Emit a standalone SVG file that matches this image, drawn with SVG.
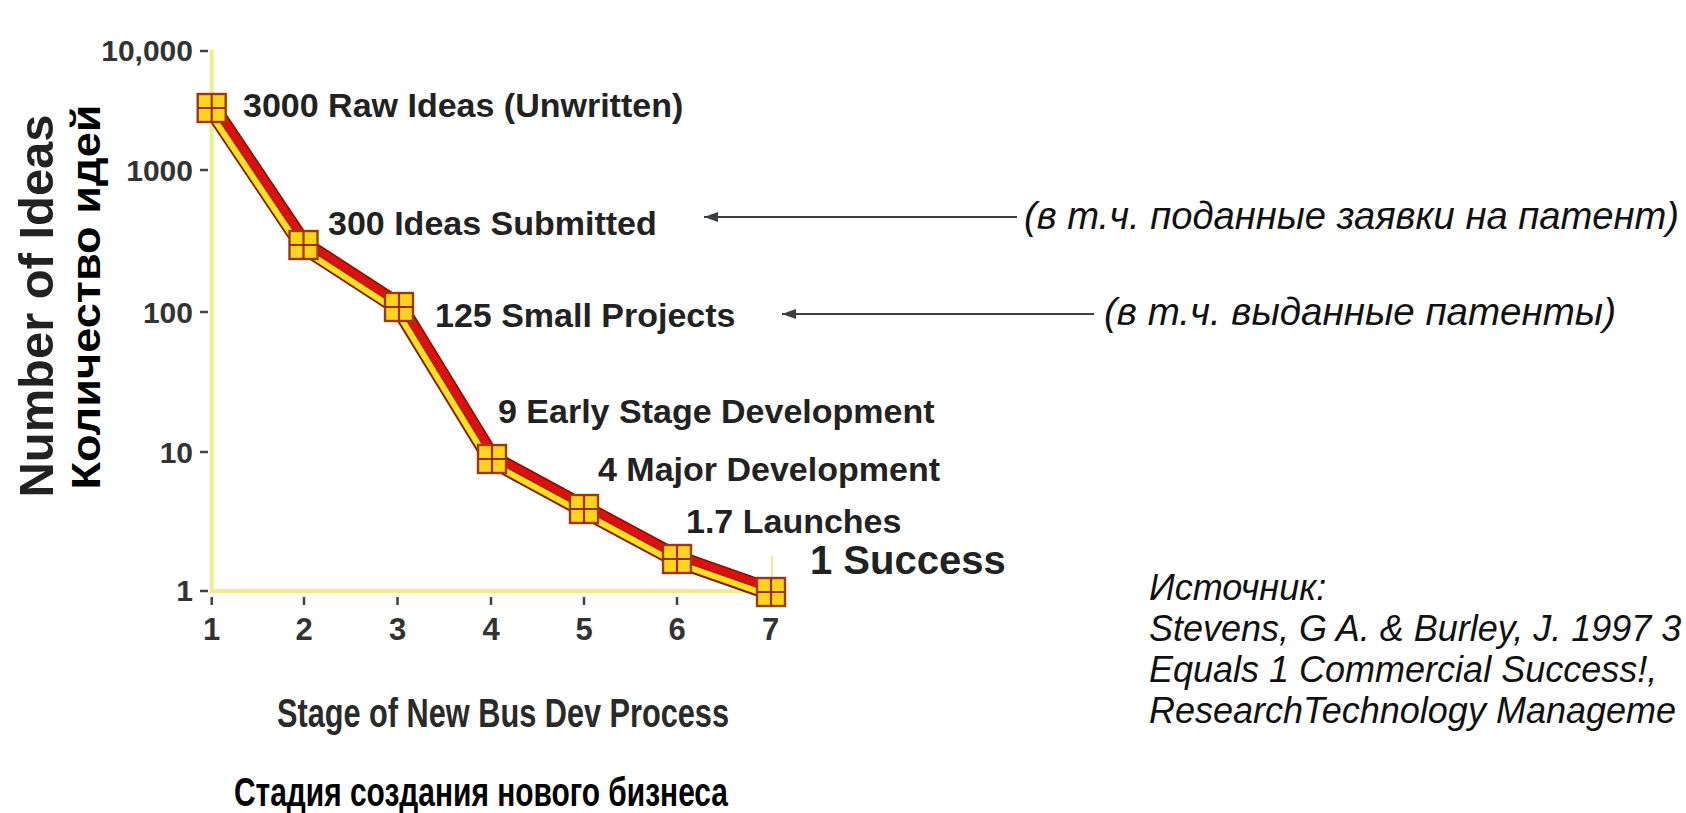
<svg xmlns="http://www.w3.org/2000/svg" width="1686" height="813" viewBox="0 0 1686 813">
<defs>
<style>
.lbl{font-family:"Liberation Sans",Arial,sans-serif;font-weight:bold;fill:#222;font-size:34px;}
.big{font-size:40px;}
.tick{font-family:"Liberation Sans",Arial,sans-serif;font-weight:bold;fill:#333;font-size:30px;text-anchor:end;}
.xt{font-family:"Liberation Sans",Arial,sans-serif;font-weight:bold;fill:#333;font-size:31px;text-anchor:middle;}
.ital{font-family:"Liberation Sans",Arial,sans-serif;font-style:italic;fill:#111;}
.axis{stroke:#F2EC8A;stroke-width:4;fill:none;}
.tk{stroke:#444;stroke-width:2.5;}
.sq rect{fill:#FFD51C;stroke:#9A3A0A;stroke-width:2.4;}
.sq path{stroke:#A02A08;stroke-width:2.2;fill:none;}
.arr{stroke:#3a3f44;stroke-width:2.2;fill:none;}
.rib{fill:none;stroke-linejoin:miter;}
</style>
<marker id="ah" viewBox="0 0 14 10" refX="14" refY="5" markerWidth="14" markerHeight="10" markerUnits="userSpaceOnUse" orient="auto">
<path d="M0,0 L14,5 L0,10 Z" fill="#3a3f44"/>
</marker>
<symbol id="box" viewBox="-15 -15 30 30" overflow="visible">
<g class="sq"><rect x="-14" y="-14" width="28" height="28"/><path d="M0,-14 V14 M-14,0 H14"/></g>
</symbol>
</defs>
<rect width="1686" height="813" fill="#fff"/>

<g id="axes">
<path class="axis" d="M211.7,50 V591 H772"/>
<path d="M772,556 V591" stroke="#F2EC8A" stroke-width="2"/>
<path class="tk" d="M200,51 H208 M200,170 H208 M200,312 H208 M200,452 H208 M200,591 H208"/>
<path class="tk" d="M211.7,597 V605 M304,597 V605 M397.5,597 V605 M491,597 V605 M584,597 V605 M677,597 V605 M770.5,597 V605"/>
<text class="tick" x="193" y="61">10,000</text>
<text class="tick" x="193" y="181">1000</text>
<text class="tick" x="193" y="323">100</text>
<text class="tick" x="193" y="463">10</text>
<text class="tick" x="193" y="601">1</text>
<text class="xt" x="211.7" y="640">1</text>
<text class="xt" x="304" y="640">2</text>
<text class="xt" x="397.5" y="640">3</text>
<text class="xt" x="491" y="640">4</text>
<text class="xt" x="584" y="640">5</text>
<text class="xt" x="677" y="640">6</text>
<text class="xt" x="770.5" y="640">7</text>
</g>

<g id="y-title">
<text font-family="Liberation Sans,Arial,sans-serif" font-weight="bold" fill="#222" font-size="49" text-anchor="middle" transform="translate(53,306) rotate(-90)" textLength="383" lengthAdjust="spacingAndGlyphs">Number of Ideas</text>
<text font-family="Liberation Sans,Arial,sans-serif" font-weight="bold" fill="#000" font-size="40" text-anchor="middle" transform="translate(100,297) rotate(-90)" textLength="385" lengthAdjust="spacingAndGlyphs">Количество идей</text>
</g>

<g id="x-title">
<text font-family="Liberation Sans Narrow,Liberation Sans,Arial,sans-serif" font-weight="bold" fill="#2a2a2a" font-size="40" text-anchor="middle" x="503" y="727" textLength="452" lengthAdjust="spacingAndGlyphs">Stage of New Bus Dev Process</text>
<text font-family="Liberation Sans Narrow,Liberation Sans,Arial,sans-serif" font-weight="bold" fill="#000" font-size="41" text-anchor="middle" x="481" y="806" textLength="494" lengthAdjust="spacingAndGlyphs">Стадия создания нового бизнеса</text>
</g>

<g id="curve">
<polyline class="rib" points="211.7,108 303.5,245 399,307 492,459 584,509 677,559 771,592" stroke="#7A1500" stroke-width="18"/>
<polyline class="rib" points="211.7,108 303.5,245 399,307 492,459 584,509 677,559 771,592" stroke="#DC1010" stroke-width="15"/>
<polyline class="rib" transform="translate(-3,3)" points="211.7,108 303.5,245 399,307 492,459 584,509 677,559 771,592" stroke="#8A2A00" stroke-width="8"/>
<polyline class="rib" transform="translate(-3,3)" points="211.7,108 303.5,245 399,307 492,459 584,509 677,559 771,592" stroke="#FFE020" stroke-width="6"/>
</g>

<g id="p1"><use href="#box" x="196.7" y="93" width="30" height="30"/><text class="lbl" x="243" y="117">3000 Raw Ideas (Unwritten)</text></g>
<g id="p2"><use href="#box" x="288.5" y="230" width="30" height="30"/><text class="lbl" x="328" y="235">300 Ideas Submitted</text></g>
<g id="p3"><use href="#box" x="384" y="292" width="30" height="30"/><text class="lbl" x="435" y="327">125 Small Projects</text></g>
<g id="p4"><use href="#box" x="477" y="444" width="30" height="30"/><text class="lbl" x="498" y="423">9 Early Stage Development</text></g>
<g id="p5"><use href="#box" x="569" y="494" width="30" height="30"/><text class="lbl" x="598" y="481">4 Major Development</text></g>
<g id="p6"><use href="#box" x="662" y="544" width="30" height="30"/><text class="lbl" x="686" y="533">1.7 Launches</text></g>
<g id="p7"><use href="#box" x="756" y="577" width="30" height="30"/><text class="lbl big" x="810" y="574">1 Success</text></g>

<g id="connectors">
<path class="arr" d="M1017,217 H704" marker-end="url(#ah)"/>
<path class="arr" d="M1094,314 H782" marker-end="url(#ah)"/>
</g>

<g id="note1"><text class="ital" font-size="38" x="1024" y="229" textLength="655" lengthAdjust="spacingAndGlyphs">(в т.ч. поданные заявки на патент)</text></g>
<g id="note2"><text class="ital" font-size="38" x="1104" y="325" textLength="512" lengthAdjust="spacingAndGlyphs">(в т.ч. выданные патенты)</text></g>

<g id="source">
<text class="ital" font-size="36">
<tspan x="1149" y="600">Источник:</tspan>
<tspan x="1149" y="641">Stevens, G A. &amp; Burley, J. 1997 3</tspan>
<tspan x="1149" y="682">Equals 1 Commercial Success!,</tspan>
<tspan x="1149" y="723">ResearchTechnology Manageme</tspan>
</text>
</g>
</svg>
